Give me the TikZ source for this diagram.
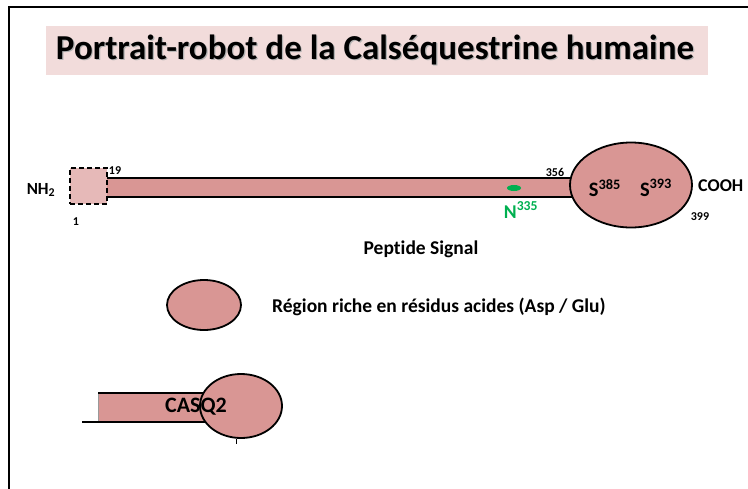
\documentclass[tikz,border=0pt]{standalone}
\usepackage{fontspec}
\setmainfont[Ligatures=NoCommon]{Carlito}
\usetikzlibrary{shapes.geometric}
\definecolor{prot}{HTML}{D99694}
\definecolor{titlebg}{HTML}{F2DCDB}
\definecolor{sigfill}{HTML}{E6B9B8}
\definecolor{glyco}{HTML}{00B050}
\tikzset{
  lbl/.style={inner sep=0pt, font=\bfseries\fontsize{19.5}{22}\selectfont},
  num/.style={inner sep=0pt, font=\bfseries\fontsize{12}{14}\selectfont},
  protdom/.style={ellipse, draw=black, line width=1.8pt, fill=prot, inner sep=0pt},
}
\begin{document}
\begin{tikzpicture}[x=1pt,y=-1pt]
\useasboundingbox (0,0) rectangle (748,488);
% frame
\draw[line width=2pt] (9,490) -- (9,7) -- (750,7);
% title
\fill[titlebg] (46,26) rectangle (708,75);
\node[inner sep=0pt, text=black!30, font=\bfseries\fontsize{35}{40}\selectfont] at (376.2,51.4) {Portrait-robot de la Calséquestrine humaine};
\node (title) [inner sep=0pt, font=\bfseries\fontsize{35}{40}\selectfont] at (375,50) {Portrait-robot de la Calséquestrine humaine};
% main chain
\node (bar) [draw=black, line width=1.8pt, fill=prot, minimum width=475pt, minimum height=19pt, inner sep=0pt, anchor=west] at (105,187.5) {};
\node (sig) [draw=black, dash pattern=on 5pt off 3pt, line width=1.6pt, fill=sigfill, minimum width=37pt, minimum height=36pt, inner sep=0pt] at (88.5,186) {};
\node (cterm) [protdom, minimum width=122pt, minimum height=85pt] at (631,185) {};
\node (glyc) [ellipse, fill=glyco, minimum width=14pt, minimum height=6pt, inner sep=0pt] at (514,188) {};
% labels
\node (nh2) [lbl, font=\bfseries\fontsize{17}{19}\selectfont] at (41,190) {NH$_{\mathbf 2}$};
\node (n19) [num] at (115,171) {19};
\node (n1) [num] at (76,222) {1};
\node (n356) [num] at (555,172) {356};
\node (s385) [lbl, font=\bfseries\fontsize{20.5}{22}\selectfont] at (605,188) {S$^{\mathbf{385}}$};
\node (s393) [lbl, font=\bfseries\fontsize{20.5}{22}\selectfont] at (656,188) {S$^{\mathbf{393}}$};
\node (cooh) [lbl, font=\bfseries\fontsize{18}{20}\selectfont, anchor=west] at (698,186) {COOH};
\node (n399) [num] at (700,217) {399};
\node (n335) [lbl, text=glyco] at (521,210) {N$^{\mathbf{335}}$};
\node (pep) [lbl] at (421,249) {Peptide Signal};
% legend
\node (leg) [protdom, minimum width=74pt, minimum height=50pt] at (204,305) {};
\node (legtxt) [lbl, anchor=west] at (272,307) {Région riche en résidus acides (Asp / Glu)};
% CASQ2
\fill[prot] (98,393) rectangle (216,422);
\draw[black!40, line width=0.6pt] (98,393) -- (98,422);
\draw[line width=1.8pt] (98,393) -- (212,393);
\draw[line width=1.2pt] (82,422) -- (212,422);
\node (head) [protdom, minimum width=82pt, minimum height=64pt] at (241,406) {};
\draw[line width=0.6pt] (head.south) ++(-5,0) -- ++(0,5);
\node (casq) [lbl, font=\bfseries\fontsize{22}{24}\selectfont] at (196,407) {CASQ2};
\end{tikzpicture}
\end{document}
